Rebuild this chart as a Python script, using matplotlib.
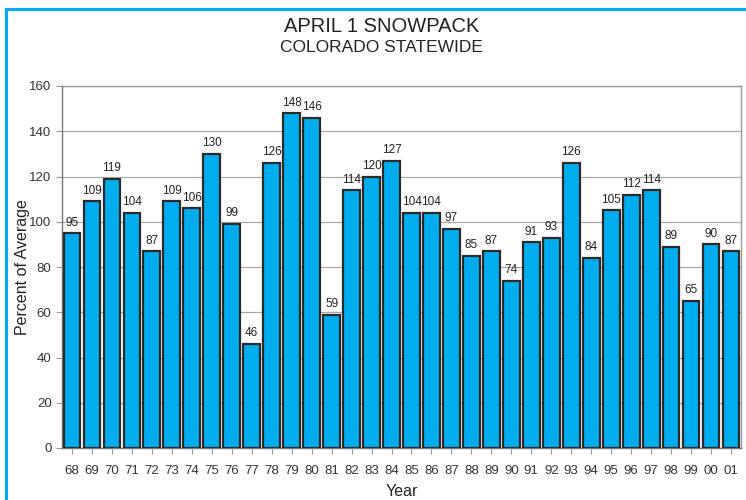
import matplotlib
matplotlib.use("Agg")
import matplotlib.pyplot as plt
from matplotlib.lines import Line2D

plt.rcParams["font.family"] = ["Liberation Sans", "DejaVu Sans"]

years = ["68", "69", "70", "71", "72", "73", "74", "75", "76", "77", "78", "79",
         "80", "81", "82", "83", "84", "85", "86", "87", "88", "89", "90", "91",
         "92", "93", "94", "95", "96", "97", "98", "99", "00", "01"]
pct = [95, 109, 119, 104, 87, 109, 106, 130, 99, 46, 126, 148,
       146, 59, 114, 120, 127, 104, 104, 97, 85, 87, 74, 91,
       93, 126, 84, 105, 112, 114, 89, 65, 90, 87]

fig = plt.figure(figsize=(7.46, 5.0), dpi=100)
ax = fig.add_axes([62 / 746, 1 - 448 / 500, (741 - 62) / 746, (448 - 86) / 500])

x = list(range(len(years)))
ax.bar(x, pct, width=0.84, color="#00aeef", edgecolor="#2a2a2a", linewidth=1.6, zorder=3)
for xi, v in zip(x, pct):
    ax.text(xi, v + 2, str(v), ha="center", va="bottom", fontsize=8.5, color="#222222")

ax.set_xlim(-0.5, len(years) - 0.5)
ax.set_ylim(0, 160)
ax.set_yticks(range(0, 161, 20))
ax.set_xticks(x)
ax.set_xticklabels(years)
ax.tick_params(axis="x", length=4, color="#999999", labelsize=9.5, pad=8, labelcolor="#333333")
ax.tick_params(axis="y", length=4, color="#999999", labelsize=9.5, labelcolor="#333333")
ax.grid(axis="y", color="#a8a8a8", linewidth=0.9, zorder=0)
for s in ax.spines.values():
    s.set_color("#999999")
    s.set_linewidth(1.0)
ax.spines["left"].set_color("#777777")
ax.spines["bottom"].set_color("#777777")

ax.set_xlabel("Year", fontsize=11.5, color="#222222", labelpad=5)
ax.set_ylabel("Percent of Average", fontsize=11.5, color="#222222")
ax.yaxis.set_label_coords((30 - 62) / 679, 0.5)

fig.text(382 / 746, 1 - 26 / 500, "APRIL 1 SNOWPACK", ha="center", va="center",
         fontsize=14.5, color="#222222")
fig.text(381 / 746, 1 - 48 / 500, "COLORADO STATEWIDE", ha="center", va="center",
         fontsize=12.5, color="#222222")

# blue frame around the figure
fig.add_artist(Line2D([6 / 746, 6 / 746], [0, 1 - 9 / 500], transform=fig.transFigure,
                      color="#00aeef", linewidth=2.2))
fig.add_artist(Line2D([6 / 746, 1], [1 - 9 / 500, 1 - 9 / 500], transform=fig.transFigure,
                      color="#00aeef", linewidth=2.2))

fig.savefig("out.png", dpi=100)
